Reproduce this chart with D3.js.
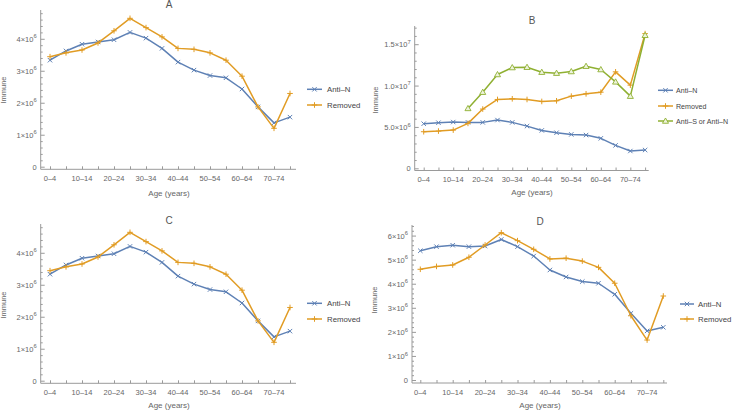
<!DOCTYPE html>
<html><head><meta charset="utf-8">
<script src="https://cdn.jsdelivr.net/npm/d3@7"></script>
<style>
body{margin:0;background:#fff;}
svg{display:block;font-family:"Liberation Sans",Arial,sans-serif;}
</style></head>
<body><svg id="c" width="732" height="410"></svg>
<script>
const categories = ["0–4","5–9","10–14","15–19","20–24","25–29","30–34","35–39","40–44","45–49","50–54","55–59","60–64","65–69","70–74","75+"];
const shownTicks = ["0–4","10–14","20–24","30–34","40–44","50–54","60–64","70–74"];

const antiN_A   = [3.33,3.62,3.83,3.90,3.97,4.20,4.02,3.70,3.27,3.02,2.85,2.78,2.43,1.87,1.37,1.55];
const removed_A = [3.44,3.56,3.65,3.87,4.25,4.64,4.35,4.06,3.70,3.67,3.56,3.33,2.83,1.87,1.20,2.29];

const antiN_B   = [5.39,5.51,5.59,5.55,5.55,5.83,5.55,5.10,4.58,4.30,4.10,4.02,3.62,2.77,2.09,2.21];
const removed_B = [4.42,4.50,4.62,5.43,7.16,8.32,8.40,8.32,8.08,8.16,8.72,9.00,9.20,11.66,10.05,16.28];
const antiSN_B  = [null,null,null,7.24,9.20,11.34,12.18,12.22,11.62,11.50,11.70,12.34,11.94,10.45,8.72,16.08];

const antiN_C   = antiN_A.slice();
const removed_C = removed_A.slice();

const antiN_D   = [5.37,5.54,5.60,5.54,5.57,5.84,5.54,5.15,4.57,4.28,4.09,4.02,3.56,2.77,2.04,2.19];
const removed_D = [4.60,4.72,4.78,5.10,5.61,6.12,5.79,5.43,5.03,5.06,4.94,4.68,4.02,2.67,1.66,3.49];

const seriesNames = ["Anti–N","Removed","Anti–S or Anti–N"];
const colors = ["#5E81B5","#E19C24","#8FB032"];
const markers = ["x","plus","tri"];

const svg = d3.select("#c");
const axisCol = "#9a9a9a", labCol = "#666";

function drawMarker(g, type, x, y, col){
  if(type==="x"){
    const s=2.2;
    g.append("path").attr("d",`M${x-s},${y-s}L${x+s},${y+s}M${x-s},${y+s}L${x+s},${y-s}`).attr("stroke",col).attr("stroke-width",1);
  } else if(type==="plus"){
    const s=2.8;
    g.append("path").attr("d",`M${x-s},${y}L${x+s},${y}M${x},${y-s}L${x},${y+s}`).attr("stroke",col).attr("stroke-width",1);
  } else {
    g.append("path").attr("d",d3.symbol(d3.symbolTriangle,16)()).attr("transform",`translate(${x},${y+0.5})`)
      .attr("fill","#eef3dd").attr("stroke",col).attr("stroke-width",0.9);
  }
}

function panel(cfg){
  const g = svg.append("g");
  const x = d3.scaleLinear().domain([0,categories.length-1]).range([cfg.xFirst, cfg.xFirst+cfg.step*(categories.length-1)]);
  const y = d3.scaleLinear().domain([0,cfg.yMax]).range([cfg.yZero,cfg.yTop]);

  const xa = d3.axisBottom(x).tickValues(d3.range(categories.length)).tickSize(-3).tickFormat("");
  const gx = g.append("g").attr("transform",`translate(0,${cfg.axisY})`).call(xa);
  gx.select(".domain").attr("d",`M${cfg.axisX},0H${cfg.xEnd}`);
  gx.selectAll("line").attr("stroke",axisCol);
  gx.select(".domain").attr("stroke",axisCol);
  shownTicks.forEach(t=>{
    const i = categories.indexOf(t);
    g.append("text").attr("x",x(i)).attr("y",cfg.axisY+11.5).attr("text-anchor","middle")
      .attr("font-size",7.5).attr("fill",labCol).text(t);
  });

  const ya = d3.axisLeft(y).tickValues(cfg.majors).tickSize(-4).tickFormat("");
  const gy = g.append("g").attr("transform",`translate(${cfg.axisX},0)`).call(ya);
  gy.select(".domain").attr("d",`M0,${cfg.axisY}V${cfg.yTop}`).attr("stroke",axisCol);
  gy.selectAll("line").attr("stroke",axisCol);
  const minors = d3.range(0,cfg.yMax,cfg.minor).filter(v=>!cfg.majors.some(m=>Math.abs(m-v)<cfg.minor*0.01));
  const ym = d3.axisLeft(y).tickValues(minors).tickSize(-2).tickFormat("");
  const gm = g.append("g").attr("transform",`translate(${cfg.axisX},0)`).call(ym);
  gm.select(".domain").remove();
  gm.selectAll("line").attr("stroke",axisCol);

  cfg.majors.forEach((m,i)=>{
    const lab = cfg.majorLabels[i];
    const t = g.append("text").attr("x",cfg.axisX-4).attr("y",y(m)+3).attr("text-anchor","end")
      .attr("font-size",7.5).attr("fill",labCol);
    if(lab[1]===null){ t.text(lab[0]); }
    else {
      t.append("tspan").text(lab[0]);
      t.append("tspan").attr("font-size",5.8).attr("dy",-3.3).text(lab[1]);
    }
  });

  g.append("text").attr("x",cfg.title[1]).attr("y",cfg.title[2]).attr("text-anchor","middle")
    .attr("font-size",10).attr("fill","#555").text(cfg.title[0]);
  g.append("text").attr("x",cfg.xlab[0]).attr("y",cfg.xlab[1]).attr("text-anchor","middle")
    .attr("font-size",8).attr("fill",labCol).text("Age (years)");
  g.append("text").attr("transform",`translate(${cfg.ylab[0]},${cfg.ylab[1]}) rotate(-90)`).attr("text-anchor","middle")
    .attr("font-size",7.5).attr("fill",labCol).text("Immune");

  cfg.series.forEach((s,k)=>{
    const pts = s.map((v,i)=>v===null?null:[x(i),y(v*1e6)]).filter(p=>p);
    const line = d3.line().x(d=>d[0]).y(d=>d[1]);
    g.append("path").attr("d",line(pts)).attr("fill","none").attr("stroke",colors[k]).attr("stroke-width",1.5).attr("stroke-linejoin","round");
    const mg = g.append("g");
    pts.forEach(p=>drawMarker(mg,markers[k],p[0],p[1],colors[k]));
  });

  cfg.series.forEach((s,k)=>{
    const ly = cfg.legend.y[k];
    g.append("line").attr("x1",cfg.legend.x1).attr("x2",cfg.legend.x2).attr("y1",ly).attr("y2",ly)
      .attr("stroke",colors[k]).attr("stroke-width",1.5);
    drawMarker(g,markers[k],(cfg.legend.x1+cfg.legend.x2)/2,ly,colors[k]);
    g.append("text").attr("x",cfg.legend.tx).attr("y",ly+3).attr("font-size",cfg.legend.fs).attr("fill","#444").text(seriesNames[k]);
  });
}

const labs6 = n => d3.range(n+1).map(i=> i===0?["0",null]:[i+"×10","6"]);

panel({axisX:40.7,xFirst:50,step:16,xEnd:296,yZero:166.7,yTop:10,yMax:4.9e6,axisY:169.3,
  majors:[0,1e6,2e6,3e6,4e6],majorLabels:labs6(4),minor:2e5,
  title:["A",169,8],xlab:[169,196],ylab:[6,90],
  legend:{x1:307,x2:322,tx:327,fs:7.8,y:[89.3,105]},series:[antiN_A,removed_A]});

panel({axisX:414.7,xFirst:423.7,step:14.76,xEnd:648.7,yZero:168.3,yTop:26,yMax:1.72e7,axisY:170.5,
  majors:[0,5e6,1e7,1.5e7],majorLabels:[["0",null],["5.0×10","6"],["1.0×10","7"],["1.5×10","7"]],minor:1e6,
  title:["B",532,24],xlab:[532,195],ylab:[378,100],
  legend:{x1:658,x2:673,tx:676,fs:7.1,y:[90.3,106,121]},series:[antiN_B,removed_B,antiSN_B]});

panel({axisX:40.7,xFirst:50,step:16,xEnd:296,yZero:380.7,yTop:224,yMax:4.9e6,axisY:383.3,
  majors:[0,1e6,2e6,3e6,4e6],majorLabels:labs6(4),minor:2e5,
  title:["C",169,224],xlab:[169,407.5],ylab:[6,305],
  legend:{x1:307,x2:322,tx:327,fs:7.8,y:[303.3,319]},series:[antiN_C,removed_C]});

panel({axisX:412,xFirst:420.3,step:16.2,xEnd:667,yZero:380,yTop:225,yMax:6.44e6,axisY:383,
  majors:[0,1e6,2e6,3e6,4e6,5e6,6e6],majorLabels:labs6(6),minor:2e5,
  title:["D",540,225],xlab:[540,407.5],ylab:[377,300],
  legend:{x1:680,x2:694,tx:698,fs:7.8,y:[304,319]},series:[antiN_D,removed_D]});
</script></body></html>
